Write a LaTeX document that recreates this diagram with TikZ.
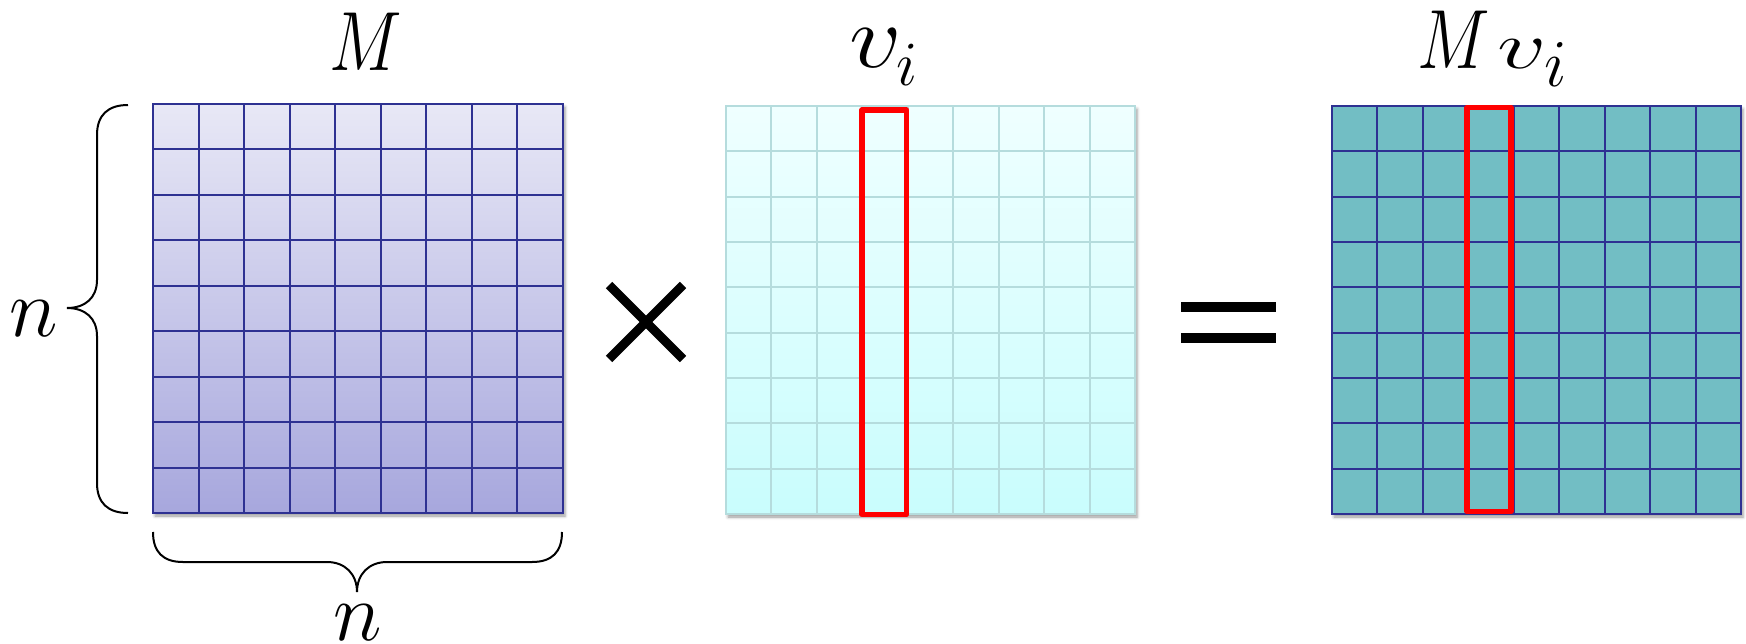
\RequirePackage{fix-cm}
\documentclass[tikz,border=0pt]{standalone}
\usepackage{graphicx}
\usetikzlibrary{shadows.blur}
\definecolor{navy}{HTML}{2E3192}
\definecolor{mtop}{HTML}{E8E8F6}
\definecolor{mbot}{HTML}{A7A7DD}
\definecolor{vtop}{HTML}{EFFFFF}
\definecolor{vbot}{HTML}{C9FDFD}
\definecolor{vline}{HTML}{B5DCDD}
\definecolor{mvfill}{HTML}{72BEC4}
\definecolor{hired}{HTML}{FF0000}
\newcommand\drawmatgrid[5]{%
  \foreach \k in {1,...,8}{
    \draw[#5] ({#1+\k*(#3-#1)/9},#2) -- ({#1+\k*(#3-#1)/9},#4);
    \draw[#5] (#1,{#2+\k*(#4-#2)/9}) -- (#3,{#2+\k*(#4-#2)/9});
  }%
}
\tikzset{
  shadowed/.style={blur shadow={shadow xshift=2pt,shadow yshift=-3pt,shadow blur radius=3pt,shadow opacity=40}},
  navygrid/.style={navy, line width=2},
  cyangrid/.style={vline, line width=2},
  redcol/.style={hired, line width=5.5, line join=round},
  bracestyle/.style={black, line width=2},
  lbl/.style={inner sep=0pt, anchor=base},
  opstyle/.style={line width=9, line cap=butt},
}
\begin{document}
\begin{tikzpicture}[x=1pt,y=-1pt]
\useasboundingbox (0,0) rectangle (1746,643);
% Matrix M
\path[shadowed, top color=mtop, bottom color=mbot] (153,104) rectangle (563,513);
\drawmatgrid{153}{104}{563}{513}{navygrid}
\draw[navygrid] (153,104) rectangle (563,513);
% Matrix v
\path[shadowed, top color=vtop, bottom color=vbot] (726,106) rectangle (1135,514);
\drawmatgrid{726}{106}{1135}{514}{cyangrid}
\draw[cyangrid] (726,106) rectangle (1135,514);
\draw[redcol] (862,110) rectangle (906.5,514.5);
% Matrix Mv
\path[shadowed, fill=mvfill] (1332,106) rectangle (1741,514);
\drawmatgrid{1332}{106}{1741}{514}{navygrid}
\draw[navygrid] (1332,106) rectangle (1741,514);
\draw[redcol] (1467,107.5) rectangle (1511,511.5);
% braces
\draw[bracestyle] (128,105) .. controls (108,105) and (97,115) .. (97,135) -- (97,280)
  .. controls (97,298) and (85,308) .. (67,308)
  .. controls (85,308) and (97,318) .. (97,336) -- (97,483)
  .. controls (97,503) and (108,513) .. (128,513);
\draw[bracestyle] (153,532) .. controls (153,552) and (163,562) .. (183,562) -- (327,562)
  .. controls (345,562) and (357,574) .. (357,592)
  .. controls (357,574) and (369,562) .. (387,562) -- (532,562)
  .. controls (552,562) and (562,552) .. (562,532);
% labels
\node[lbl] (nleft) at (34,336) {\fontsize{83}{90}\selectfont$n$};
\node[lbl] (nbot) at (358,640) {\fontsize{83}{90}\selectfont$n$};
\node[lbl] (Mlab) at (366,70) {\scalebox{0.82}[1]{\fontsize{84}{90}\selectfont$M$}};
\node[lbl, anchor=base west] (vlab) at (849,67) {\scalebox{1.15}[1]{\fontsize{90}{90}\selectfont$v$}\hspace{-5pt}\raisebox{-18pt}{\fontsize{63}{63}\selectfont$i$}};
\node[lbl, anchor=base west] (Mvlab) at (1417,68) {\scalebox{0.82}[1]{\fontsize{84}{90}\selectfont$M$}\hspace{8pt}\scalebox{1.45}[1]{\fontsize{67}{67}\selectfont$v$}\hspace{-3pt}\raisebox{-18pt}{\fontsize{67}{67}\selectfont$i$}};
% operators
\draw[opstyle] (609,285) -- (683,359);
\draw[opstyle] (609,359) -- (683,285);
\fill (1181,302) rectangle (1276,312);
\fill (1181,333) rectangle (1276,343);
\end{tikzpicture}
\end{document}
